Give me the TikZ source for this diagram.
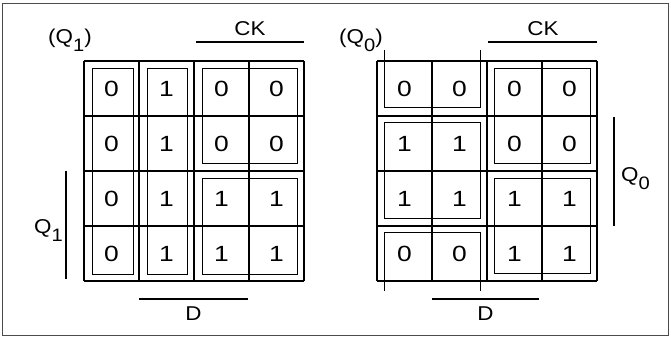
\documentclass[tikz,border=0pt]{standalone}
\usepackage{fontspec}
\setmainfont{Liberation Sans}
\newfontfamily\digfont[FakeStretch=1.2]{Liberation Sans}
\newfontfamily\labfont[FakeStretch=1.12]{Liberation Sans}
\newcommand\ksub[1]{\raisebox{-8pt}{\fontsize{18}{18}\selectfont #1}}
\begin{document}
\begin{tikzpicture}[x=1pt,y=-1pt,
  gridline/.style={line width=1.8pt},
  grp/.style={line width=0.8pt},
  bar/.style={line width=1.8pt},
  dig/.style={font=\digfont\fontsize{22}{22}\selectfont, inner sep=0pt},
  lab/.style={font=\labfont\fontsize{20}{20}\selectfont, inner sep=0pt}]
\useasboundingbox (0,0) rectangle (671,338);
\draw[line width=0.9pt, black!70] (2,3) rectangle (668,335);

% ---------- left map ----------
\foreach \i in {0,...,4} {
  \draw[gridline] (84+55*\i,61) -- (84+55*\i,281);
  \draw[gridline] (84,61+55*\i) -- (304,61+55*\i);
}
\foreach \r/\a/\b/\c/\d in {1/0/1/0/0,2/0/1/0/0,3/0/1/1/1,4/0/1/1/1} {
  \node[dig] (L\r a) at (111.5,33.5+55*\r) {\a};
  \node[dig] (L\r b) at (166.5,33.5+55*\r) {\b};
  \node[dig] (L\r c) at (221.5,33.5+55*\r) {\c};
  \node[dig] (L\r d) at (276.5,33.5+55*\r) {\d};
}
\draw[grp] (92,68) rectangle (133,274);
\draw[grp] (147,68) rectangle (187,274);
\draw[grp] (202,68) rectangle (297,163);
\draw[grp] (202,178) rectangle (297,274);

\node[lab, anchor=base west] (lq1) at (48,43) {(Q\ksub{1})};
\node[lab, anchor=base] (lck) at (250,35) {CK};
\draw[bar] (196,42) -- (304,42);
\node[lab, anchor=base west] (lq1s) at (34,233) {Q\ksub{1}};
\draw[bar] (66,171) -- (66,279);
\draw[bar] (139,299) -- (248,299);
\node[lab, anchor=base] (ld) at (193.5,320) {D};

% ---------- right map ----------
\foreach \i in {0,...,4} {
  \draw[gridline] (377+55*\i,61) -- (377+55*\i,281);
  \draw[gridline] (377,61+55*\i) -- (597,61+55*\i);
}
\foreach \r/\a/\b/\c/\d in {1/0/0/0/0,2/1/1/0/0,3/1/1/1/1,4/0/0/1/1} {
  \node[dig] (R\r a) at (404.5,33.5+55*\r) {\a};
  \node[dig] (R\r b) at (459.5,33.5+55*\r) {\b};
  \node[dig] (R\r c) at (514.5,33.5+55*\r) {\c};
  \node[dig] (R\r d) at (569.5,33.5+55*\r) {\d};
}
\draw[grp] (384,50) -- (384,107) -- (480,107) -- (480,50);
\draw[grp] (384,122) rectangle (480,218);
\draw[grp] (384,291) -- (384,232) -- (480,232) -- (480,291);
\draw[grp] (494,68) rectangle (590,163);
\draw[grp] (494,178) rectangle (590,273);

\node[lab, anchor=base west] (rq0) at (339,43) {(Q\ksub{0})};
\node[lab, anchor=base] (rck) at (543,35) {CK};
\draw[bar] (488,42) -- (597,42);
\node[lab, anchor=base west] (rq0s) at (621,181) {Q\ksub{0}};
\draw[bar] (614,117) -- (614,226);
\draw[bar] (432,299) -- (539,299);
\node[lab, anchor=base] (rd) at (485.5,320) {D};
\end{tikzpicture}
\end{document}
